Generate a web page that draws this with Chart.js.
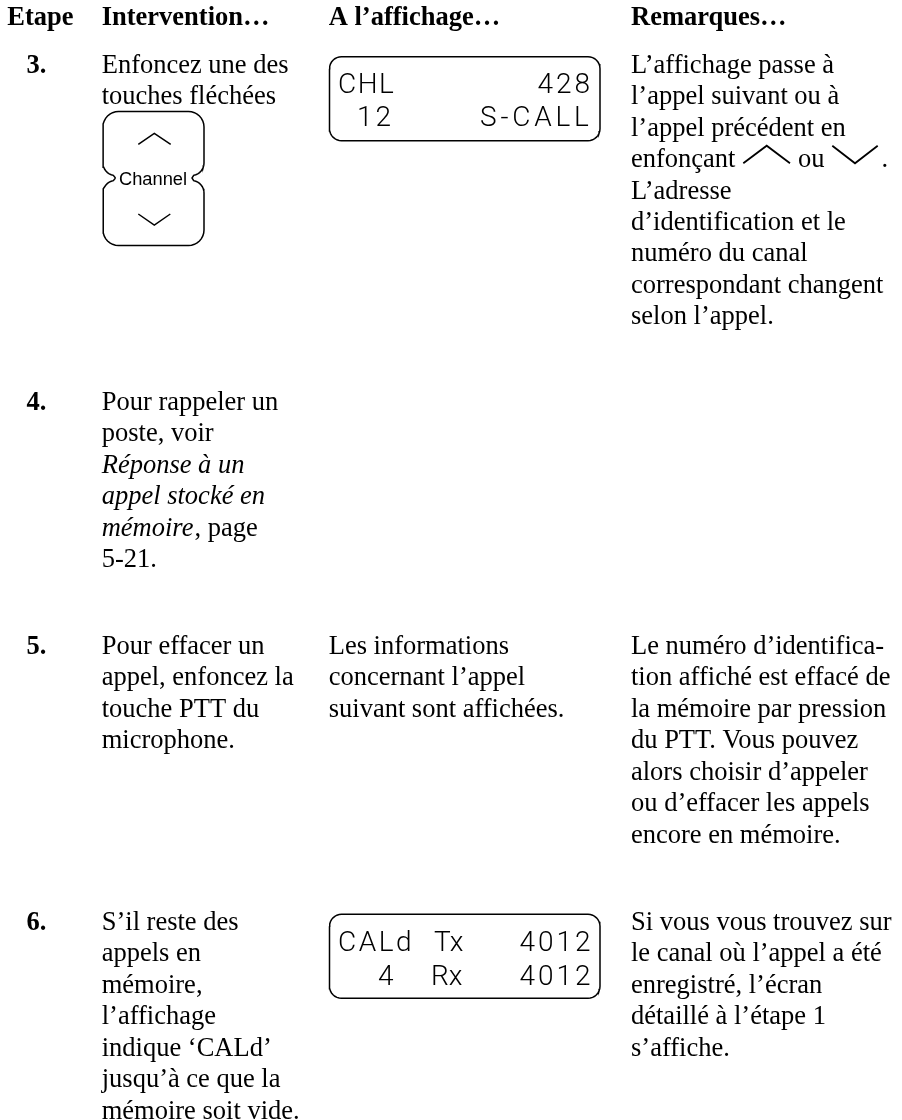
<!DOCTYPE html>
<html lang="fr">
<head>
<meta charset="utf-8">
<title>Etape</title>
<script src="https://cdn.jsdelivr.net/npm/chart.js@4/dist/chart.umd.min.js"></script>
<style>
    html, body { margin: 0; background: #fff; }
    canvas { display: block; }
</style>
</head>
<body>
<canvas id="page" width="902" height="1120"></canvas>
<script>
const headers = ['Etape', 'Intervention…', 'A l’affichage…', 'Remarques…'];
const stepNumbers = ['3.', '4.', '5.', '6.'];

const action3 = ['Enfoncez une des', 'touches fléchées'];
const action4 = ['Pour rappeler un', 'poste, voir'];
const action4Italic = ['Réponse à un', 'appel stocké en'];
const action4Last = ['5-21.'];
const action5 = ['Pour effacer un', 'appel, enfoncez la', 'touche PTT du', 'microphone.'];
const action6 = ['S’il reste des', 'appels en', 'mémoire,', 'l’affichage', 'indique ‘CALd’', 'jusqu’à ce que la', 'mémoire soit vide.'];

const display5 = ['Les informations', 'concernant l’appel', 'suivant sont affichées.'];

const remarks3a = ['L’affichage passe à', 'l’appel suivant ou à', 'l’appel précédent en'];
const remarks3b = ['L’adresse', 'd’identification et le', 'numéro du canal', 'correspondant changent', 'selon l’appel.'];
const remarks5 = ['Le numéro d’identifica-', 'tion affiché est effacé de', 'la mémoire par pression', 'du PTT. Vous pouvez', 'alors choisir d’appeler', 'ou d’effacer les appels', 'encore en mémoire.'];
const remarks6 = ['Si vous vous trouvez sur', 'le canal où l’appel a été', 'enregistré, l’écran', 'détaillé à l’étape 1', 's’affiche.'];

const colors = { ink: '#000000' };
const serif = '"Liberation Serif"';
const bodySize = 26.5;
const pitch = 31.45;
const colX = [7.3, 101.7, 328.7, 631];
const numberX = 26.5;
const rowY = [72.7, 410, 654, 930];

let labels = [];

const addLines = function(lines, x, y, font = 'normal') {
    lines.forEach((text, i) => labels.push({ text, x, y: y + i * pitch, font: `${font} ${bodySize}px ${serif}` }));
}

headers.forEach((text, i) => labels.push({ text, x: colX[i], y: 25, font: `bold ${bodySize}px ${serif}` }));
stepNumbers.forEach((text, i) => labels.push({ text, x: numberX, y: rowY[i], font: `bold ${bodySize}px ${serif}` }));

addLines(action3, colX[1], rowY[0]);
addLines(action4, colX[1], rowY[1]);
addLines(action4Italic, colX[1], rowY[1] + 2 * pitch, 'italic');
labels.push({ text: 'mémoire', x: colX[1], y: rowY[1] + 4 * pitch, font: `italic ${bodySize}px ${serif}` });
labels.push({ text: ', page', x: 194.5, y: rowY[1] + 4 * pitch, font: `normal ${bodySize}px ${serif}` });
addLines(action4Last, colX[1], rowY[1] + 5 * pitch);
addLines(action5, colX[1], rowY[2]);
addLines(action6, colX[1], rowY[3]);

addLines(display5, colX[2], rowY[2]);

addLines(remarks3a, colX[3], rowY[0]);
addLines(['enfonçant'], colX[3], rowY[0] + 3 * pitch);
addLines(['ou'], 798, rowY[0] + 3 * pitch);
addLines(['.'], 881.5, rowY[0] + 3 * pitch);
addLines(remarks3b, colX[3], rowY[0] + 4 * pitch);
addLines(remarks5, colX[3], rowY[2]);
addLines(remarks6, colX[3], rowY[3]);

labels.push({ text: 'Channel', x: 119, y: 185, font: '18.3px "Liberation Sans"' });

// LCD readouts: Roboto has tabular digits, spacing set per string to hit the display slots
const lcdFont = '300 28px Roboto';
const lcd = [
    { text: 'CHL', x: 338, y: 92.7, spacing: 1.5 },
    { text: '12', x: 357, y: 126, spacing: 3 },
    { text: '428', x: 537.5, y: 92.7, spacing: 3 },
    { text: 'S-CALL', x: 480, y: 126, spacing: 3.8 },
    { text: 'CALd', x: 338, y: 951, spacing: 2.5 },
    { text: 'Tx', x: 434, y: 951, spacing: 0 },
    { text: '4012', x: 519.5, y: 951, spacing: 3 },
    { text: '4', x: 378, y: 984.5, spacing: 0 },
    { text: 'Rx', x: 431, y: 984.5, spacing: 0 },
    { text: '4012', x: 519.5, y: 984.5, spacing: 3 }
];

// round corner as a polyline
const arc = function(cx, cy, r, from, to) {
    const pts = [];
    for (let i = 0; i <= 8; i++) {
        const a = (from + (to - from) * i / 8) * Math.PI / 180;
        pts.push({ x: cx + r * Math.cos(a), y: cy + r * Math.sin(a) });
    }
    return pts;
}

const roundBox = function(x0, y0, x1, y1, r) {
    return [
        ...arc(x0 + r, y0 + r, r, 180, 270),
        ...arc(x1 - r, y0 + r, r, 270, 360),
        ...arc(x1 - r, y1 - r, r, 0, 90),
        ...arc(x0 + r, y1 - r, r, 90, 180),
        { x: x0, y: y0 + r }
    ];
}

const channelOutline = [
    { x: 115.5, y: 178 },
    ...arc(115.5, 163, 12.5, 100, 180),
    ...arc(118.5, 127, 15.5, 180, 270),
    ...arc(188.5, 127, 15.5, 270, 360),
    ...arc(191.5, 163, 12.5, 0, 80),
    { x: 192, y: 178 },
    ...arc(191.5, 193, 12.5, 280, 360),
    ...arc(188.5, 230, 15.5, 0, 90),
    ...arc(118.5, 230, 15.5, 90, 180),
    ...arc(115.5, 193, 12.5, 180, 260),
    { x: 115.5, y: 178 }
];

const upArrow = [{ x: 138.3, y: 144.3 }, { x: 154.3, y: 133.3 }, { x: 170.7, y: 144.3 }];
const downArrow = [{ x: 138.3, y: 214 }, { x: 154.3, y: 225 }, { x: 170.3, y: 214 }];
const upInline = [{ x: 743.3, y: 163.3 }, { x: 766.7, y: 145.7 }, { x: 790, y: 163.3 }];
const downInline = [{ x: 832.3, y: 145.7 }, { x: 855, y: 163.3 }, { x: 877.7, y: 145.7 }];

const shape = function(data, width = 1.5) {
    return { data, showLine: true, borderColor: colors.ink, borderWidth: width, pointRadius: 0, tension: 0, fill: false };
}

const textPlugin = {
    id: 'pageText',
    afterDatasetsDraw(chart) {
        const { ctx, scales } = chart;
        ctx.save();
        ctx.fillStyle = colors.ink;
        ctx.textBaseline = 'alphabetic';
        labels.forEach(l => {
            ctx.font = l.font;
            ctx.fillText(l.text, scales.x.getPixelForValue(l.x), scales.y.getPixelForValue(l.y));
        });
        ctx.font = lcdFont;
        lcd.forEach(l => {
            ctx.letterSpacing = l.spacing + 'px';
            ctx.fillText(l.text, scales.x.getPixelForValue(l.x), scales.y.getPixelForValue(l.y));
        });
        ctx.restore();
    }
};

const ctx = document.getElementById('page').getContext('2d');
new Chart(ctx, {
    type: 'scatter',
    data: {
        datasets: [
            shape(roundBox(329.5, 56.7, 600, 140.7, 12)),
            shape(roundBox(329.5, 914.3, 600, 998.3, 12)),
            shape(channelOutline),
            shape(upArrow),
            shape(downArrow),
            shape(upInline, 1.8),
            shape(downInline, 1.8)
        ]
    },
    options: {
        responsive: false,
        animation: false,
        layout: { padding: 0 },
        plugins: { legend: { display: false }, tooltip: { enabled: false } },
        scales: {
            x: { type: 'linear', min: 0, max: 902, display: false },
            y: { type: 'linear', min: 0, max: 1120, reverse: true, display: false }
        }
    },
    plugins: [textPlugin]
});
</script>
</body>
</html>
